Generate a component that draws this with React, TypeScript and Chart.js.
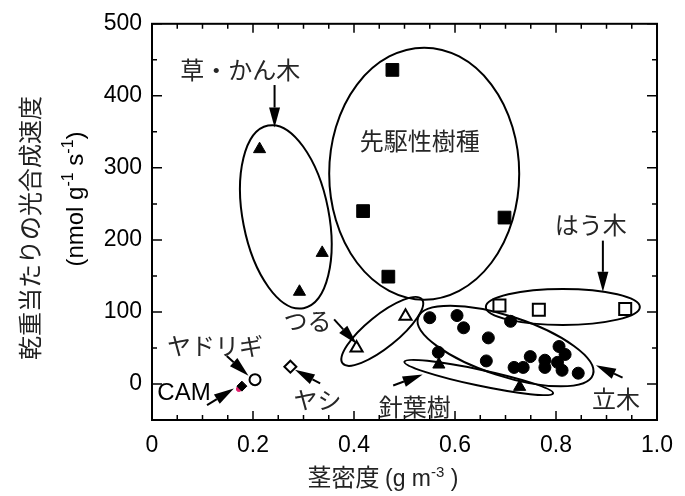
import React, { useEffect, useRef } from 'react';
import { Chart, registerables } from 'chart.js';

Chart.register(...registerables);

// ---- axis ticks ----
const xTickValues = [0, 0.2, 0.4, 0.6, 0.8, 1.0];
const xTickLabels = ['0', '0.2', '0.4', '0.6', '0.8', '1.0'];
const yTickValues = [0, 100, 200, 300, 400, 500];
const yTickLabels = ['0', '100', '200', '300', '400', '500'];

// ---- data (stem density g m-3, photosynthetic rate nmol g-1 s-1) ----
const herbShrubX = [0.213, 0.337, 0.292];
const herbShrubY = [326, 182, 128];
const pioneerX = [0.476, 0.418, 0.698, 0.468];
const pioneerY = [436, 240, 231, 149];
const coniferX = [0.568, 0.728];
const coniferY = [27, -4];
const treeX = [0.550, 0.604, 0.617, 0.710, 0.666, 0.567, 0.662, 0.717, 0.735, 0.749, 0.778, 0.778, 0.806, 0.818, 0.803, 0.812, 0.844];
const treeY = [92, 95, 78, 87, 64, 44, 32, 23, 23, 38, 33, 23, 52, 41, 30, 19, 15];
const vineX = [0.405, 0.502];
const vineY = [50, 94];
const creeperX = [0.688, 0.766, 0.937];
const creeperY = [109, 103, 104];
const mistletoeX = [0.204];
const mistletoeY = [6];
const palmX = [0.274];
const palmY = [24];
const camX = [0.178];
const camY = [-3];
const camRedX = [0.172];
const camRedY = [-7];

const pts = (xs: number[], ys: number[]) => xs.map((x, i) => ({ x, y: ys[i] }));

// ---- annotations (centres in data units) ----
const groupEllipses = [
  { x: 0.265, y: 232, a: 93, b: 43, rot: 79 },
  { x: 0.539, y: 292, a: 95, b: 126, rot: 0 },
  { x: 0.8135, y: 107, a: 77, b: 18, rot: 0 },
  { x: 0.456, y: 73, a: 51, b: 16, rot: -39 },
  { x: 0.700, y: 52.6, a: 92, b: 30, rot: 18 },
  { x: 0.647, y: 9, a: 76, b: 8, rot: 12 },
];

const arrows = [
  { x1: 0.2427, y1: 415, x2: 0.2427, y2: 356 },
  { x1: 0.8928, y1: 199, x2: 0.8928, y2: 128 },
  { x1: 0.148, y1: 39, x2: 0.191, y2: 11.6 },
  { x1: 0.109, y1: -29.4, x2: 0.162, y2: -6.2 },
  { x1: 0.333, y1: 0.7, x2: 0.283, y2: 19.8 },
  { x1: 0.3606, y1: 89.6, x2: 0.4055, y2: 55.4 },
  { x1: 0.4776, y1: -2.1, x2: 0.536, y2: 13 },
  { x1: 0.9318, y1: 8.9, x2: 0.879, y2: 26 },
];

const JP = '"Noto Sans CJK JP", sans-serif';
const LAT = '"Liberation Sans", Arial, sans-serif';

const groupLabels = [
  { text: '草・かん木', x: 0.1748, y: 435.7, font: `24px ${JP}` },
  { text: '先駆性樹種', x: 0.530, y: 337, font: `24px ${JP}` },
  { text: 'はう木', x: 0.869, y: 221, font: `24px ${JP}` },
  { text: 'つる', x: 0.308, y: 87, font: `24px ${JP}` },
  { text: 'ヤドリギ', x: 0.1248, y: 52.7, font: `24px ${JP}` },
  { text: 'CAM', x: 0.0634, y: -13, font: `24px ${LAT}` },
  { text: 'ヤシ', x: 0.3275, y: -22.6, font: `24px ${JP}` },
  { text: '針葉樹', x: 0.5205, y: -32, font: `24px ${JP}` },
  { text: '立木', x: 0.919, y: -20, font: `24px ${JP}` },
];

type Part = { t: string; font: string; dy?: number };

function drawParts(ctx: CanvasRenderingContext2D, parts: Part[], cx: number, baseline: number) {
  let total = 0;
  const ws = parts.map((p) => {
    ctx.font = p.font;
    const w = ctx.measureText(p.t).width;
    total += w;
    return w;
  });
  let x = cx - total / 2;
  ctx.textAlign = 'left';
  ctx.textBaseline = 'alphabetic';
  parts.forEach((p, i) => {
    ctx.font = p.font;
    ctx.fillText(p.t, x, baseline + (p.dy || 0));
    x += ws[i];
  });
}

const decor = {
  id: 'decor',
  beforeDatasetsDraw(chart: any) {
    const ctx: CanvasRenderingContext2D = chart.ctx;
    const xs = chart.scales.x;
    const ys = chart.scales.y;
    ctx.save();
    ctx.strokeStyle = '#000';
    ctx.lineWidth = 2;
    groupEllipses.forEach((e) => {
      ctx.beginPath();
      ctx.ellipse(xs.getPixelForValue(e.x), ys.getPixelForValue(e.y), e.a, e.b, (e.rot * Math.PI) / 180, 0, Math.PI * 2);
      ctx.stroke();
    });
    ctx.restore();
  },
  afterDraw(chart: any) {
    const ctx: CanvasRenderingContext2D = chart.ctx;
    const xs = chart.scales.x;
    const ys = chart.scales.y;
    const a = chart.chartArea;
    ctx.save();
    // frame
    ctx.strokeStyle = '#000';
    ctx.lineWidth = 2;
    ctx.strokeRect(a.left, a.top, a.right - a.left, a.bottom - a.top);
    // inner ticks
    ctx.lineWidth = 1.5;
    ctx.beginPath();
    for (let i = 0; i <= 20; i++) {
      const v = i * 0.05;
      const px = xs.getPixelForValue(v);
      const len = i % 4 === 0 ? 9 : 5;
      ctx.moveTo(px, a.bottom);
      ctx.lineTo(px, a.bottom - len);
      ctx.moveTo(px, a.top);
      ctx.lineTo(px, a.top + len);
    }
    for (let v = -50; v <= 500; v += 50) {
      const py = ys.getPixelForValue(v);
      const len = v % 100 === 0 ? 10 : 5;
      ctx.moveTo(a.left, py);
      ctx.lineTo(a.left + len, py);
      ctx.moveTo(a.right, py);
      ctx.lineTo(a.right - len, py);
    }
    ctx.stroke();

    // arrows
    ctx.fillStyle = '#000';
    arrows.forEach((ar) => {
      const x1 = xs.getPixelForValue(ar.x1);
      const y1 = ys.getPixelForValue(ar.y1);
      const x2 = xs.getPixelForValue(ar.x2);
      const y2 = ys.getPixelForValue(ar.y2);
      const ang = Math.atan2(y2 - y1, x2 - x1);
      const hl = 20;
      const hw = 5.5;
      const bx = x2 - hl * Math.cos(ang);
      const by = y2 - hl * Math.sin(ang);
      ctx.lineWidth = 2;
      ctx.beginPath();
      ctx.moveTo(x1, y1);
      ctx.lineTo(bx, by);
      ctx.stroke();
      ctx.beginPath();
      ctx.moveTo(x2, y2);
      ctx.lineTo(bx + hw * Math.sin(ang), by - hw * Math.cos(ang));
      ctx.lineTo(bx - hw * Math.sin(ang), by + hw * Math.cos(ang));
      ctx.closePath();
      ctx.fill();
    });

    // group labels
    ctx.textAlign = 'center';
    ctx.textBaseline = 'middle';
    groupLabels.forEach((l) => {
      ctx.font = l.font;
      ctx.fillStyle = l.text === 'CAM' ? '#000' : '#262626';
      ctx.fillText(l.text, xs.getPixelForValue(l.x), ys.getPixelForValue(l.y));
    });

    // x axis title
    ctx.fillStyle = '#222';
    drawParts(
      ctx,
      [
        { t: '茎密度 ', font: `24px ${JP}` },
        { t: '(g m', font: `23px ${LAT}` },
        { t: '-3', font: `15px ${LAT}`, dy: -9 },
        { t: ' )', font: `23px ${LAT}` },
      ],
      383,
      486
    );

    // y axis title (rotated)
    ctx.save();
    ctx.translate(39, 228);
    ctx.rotate(-Math.PI / 2);
    drawParts(ctx, [{ t: '乾重当たりの光合成速度', font: `24px ${JP}` }], 0, 0);
    ctx.restore();
    ctx.save();
    ctx.translate(83, 199);
    ctx.rotate(-Math.PI / 2);
    ctx.fillStyle = '#000';
    drawParts(
      ctx,
      [
        { t: '(nmol g', font: `24px ${LAT}` },
        { t: '-1', font: `16px ${LAT}`, dy: -10 },
        { t: ' s', font: `24px ${LAT}` },
        { t: '-1', font: `16px ${LAT}`, dy: -10 },
        { t: ')', font: `24px ${LAT}` },
      ],
      0,
      0
    );
    ctx.restore();
    ctx.restore();
  },
};

export default function App() {
  const ref = useRef<HTMLCanvasElement | null>(null);
  useEffect(() => {
    if (!ref.current) return;
    const black = '#000';
    const ds = (label: string, data: any[], style: string, r: number, open: boolean, color = black) => ({
      label,
      data,
      pointStyle: style,
      pointRadius: r,
      pointBackgroundColor: open ? '#fff' : color,
      pointBorderColor: color,
      pointBorderWidth: open ? 2 : 1,
      showLine: false,
    });
    const chart = new Chart(ref.current, {
      type: 'scatter',
      data: {
        datasets: [
          ds('草・かん木', pts(herbShrubX, herbShrubY), 'triangle', 7, false),
          ds('先駆性樹種', pts(pioneerX, pioneerY), 'rect', 9, false),
          ds('針葉樹', pts(coniferX, coniferY), 'triangle', 7, false),
          ds('立木', pts(treeX, treeY), 'circle', 6, false),
          ds('つる', pts(vineX, vineY), 'triangle', 7, true),
          ds('はう木', pts(creeperX, creeperY), 'rect', 8.5, true),
          ds('ヤドリギ', pts(mistletoeX, mistletoeY), 'circle', 5.5, true),
          ds('ヤシ', pts(palmX, palmY), 'rectRot', 6, true),
          ds('CAM', pts(camX, camY), 'rectRot', 5, false),
          ds('CAM2', pts(camRedX, camRedY), 'circle', 2.5, false, '#e3206e'),
        ] as any,
      },
      options: {
        responsive: false,
        animation: false,
        devicePixelRatio: 1,
        layout: { padding: { left: 0, top: 18, right: 20, bottom: 0 } },
        plugins: { legend: { display: false }, tooltip: { enabled: false } },
        scales: {
          x: {
            type: 'linear',
            min: 0,
            max: 1,
            grid: { display: false, drawTicks: false },
            border: { display: false },
            afterBuildTicks: (s: any) => {
              s.ticks = xTickValues.map((v) => ({ value: v }));
            },
            afterFit: (s: any) => {
              s.height = 76;
            },
            ticks: {
              color: '#000',
              padding: 12,
              maxRotation: 0,
              autoSkip: false,
              font: { family: LAT, size: 23 },
              callback: (v: any) => xTickLabels[xTickValues.indexOf(Number(v))] ?? '',
            },
          },
          y: {
            type: 'linear',
            min: -50,
            max: 500,
            grid: { display: false, drawTicks: false },
            border: { display: false },
            afterBuildTicks: (s: any) => {
              s.ticks = yTickValues.map((v) => ({ value: v }));
            },
            afterFit: (s: any) => {
              s.width = 152;
            },
            ticks: {
              color: '#000',
              padding: 10,
              autoSkip: false,
              font: { family: LAT, size: 23 },
              callback: (v: any) => yTickLabels[yTickValues.indexOf(Number(v))] ?? '',
            },
          },
        },
      },
      plugins: [decor],
    } as any);
    return () => chart.destroy();
  }, []);
  return (
    <div style={{ position: 'fixed', left: 0, top: 0, width: 685, height: 496, background: '#fff' }}>
      <canvas ref={ref} width={685} height={496} />
    </div>
  );
}
